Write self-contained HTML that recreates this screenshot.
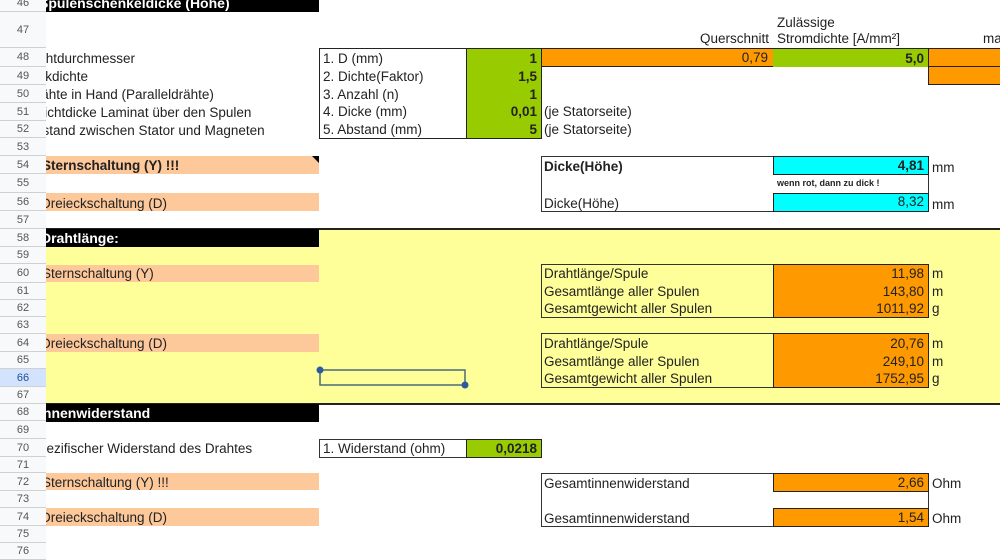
<!DOCTYPE html>
<html><head><meta charset="utf-8">
<style>
html,body{margin:0;padding:0;width:1000px;height:553px;overflow:hidden;background:#fff;font-family:"Liberation Sans",Arial,sans-serif;}
.a{position:absolute;box-sizing:border-box;}
.t{position:absolute;white-space:nowrap;font-size:13.5px;color:#222;box-sizing:border-box;}
.r{text-align:right;padding-right:4px;}
.b{font-weight:bold;}
.hn{position:absolute;left:0;width:46px;text-align:center;font-size:11px;color:#555;background:#f8f9fa;border-bottom:1px solid #d0d0d0;box-sizing:border-box;}
.clip{position:absolute;left:46px;width:273px;overflow:hidden;white-space:nowrap;font-size:13.5px;color:#222;}
</style></head><body>

<div class="a" style="left:319px;top:229px;width:681px;height:175px;background:#ffff99"></div>
<div class="a" style="left:46px;top:247px;width:273px;height:157px;background:#ffff99"></div>
<div class="a" style="left:46px;top:228px;width:954px;height:2px;background:#222"></div>
<div class="a" style="left:46px;top:403px;width:954px;height:2px;background:#222"></div>

<div class="a" style="left:46px;top:0;width:273px;height:12px;background:#000"></div>
<div class="clip b" style="top:-5px;height:17px;line-height:17px;color:#fff;font-size:14px;"><span style="margin-left:-7px">Spulenschenkeldicke (Höhe)</span></div>
<div class="a" style="left:46px;top:229px;width:273px;height:18px;background:#000"></div>
<div class="clip b" style="top:229px;height:18px;line-height:18px;color:#fff;font-size:14px;"><span style="margin-left:-5px">Drahtlänge:</span></div>
<div class="a" style="left:46px;top:404px;width:273px;height:18px;background:#000"></div>
<div class="clip b" style="top:404px;height:18px;line-height:18px;color:#fff;font-size:14px;"><span style="margin-left:-7px">Innenwiderstand</span></div>

<div class="a" style="left:46px;top:156px;width:273px;height:18px;background:#fdc89a"></div>
<div class="a" style="left:46px;top:193px;width:273px;height:18px;background:#fdc89a"></div>
<div class="a" style="left:46px;top:265px;width:273px;height:17px;background:#fdc89a"></div>
<div class="a" style="left:46px;top:334px;width:273px;height:18px;background:#fdc89a"></div>
<div class="a" style="left:46px;top:473px;width:273px;height:17px;background:#fdc89a"></div>
<div class="a" style="left:46px;top:508px;width:273px;height:18px;background:#fdc89a"></div>
<div class="a" style="left:312px;top:156px;width:0;height:0;border-top:7px solid #000;border-left:7px solid transparent"></div>

<div class="clip" style="top:50px;line-height:18px"><span style="margin-left:-22px">Drahtdurchmesser</span></div>
<div class="clip" style="top:68px;line-height:18px"><span style="margin-left:-24px">Packdichte</span></div>
<div class="clip" style="top:86px;line-height:18px"><span style="margin-left:-19px">Drähte in Hand (Paralleldrähte)</span></div>
<div class="clip" style="top:104px;line-height:18px"><span style="margin-left:-25px">Schichtdicke Laminat über den Spulen</span></div>
<div class="clip" style="top:122px;line-height:18px"><span style="margin-left:-20px">Abstand zwischen Stator und Magneten</span></div>
<div class="clip b" style="top:157px;line-height:18px"><span style="margin-left:-4px">Sternschaltung (Y) !!!</span></div>
<div class="clip" style="top:195px;line-height:18px"><span style="margin-left:-5px">Dreieckschaltung (D)</span></div>
<div class="clip" style="top:265px;line-height:18px"><span style="margin-left:-4px">Sternschaltung (Y)</span></div>
<div class="clip" style="top:335px;line-height:18px"><span style="margin-left:-5px">Dreieckschaltung (D)</span></div>
<div class="clip" style="top:440px;line-height:18px"><span style="margin-left:-16px">Spezifischer Widerstand des Drahtes</span></div>
<div class="clip" style="top:474px;line-height:18px"><span style="margin-left:-4px">Sternschaltung (Y) !!!</span></div>
<div class="clip" style="top:509px;line-height:18px"><span style="margin-left:-5px">Dreieckschaltung (D)</span></div>

<div class="t" style="left:700px;top:31px;">Querschnitt</div>
<div class="t" style="left:777px;top:15px;">Zulässige</div>
<div class="t" style="left:777px;top:31px;">Stromdichte [A/mm²]</div>
<div class="t" style="left:983px;top:31px;">ma</div>

<div class="a" style="left:319px;top:48px;width:148px;height:91px;border:1.5px solid #222"></div>
<div class="a" style="left:466px;top:48px;width:76px;height:91px;background:#99cc00;border:1.5px solid #222"></div>
<div class="t" style="left:323px;top:51px">1. D (mm)</div>
<div class="t" style="left:323px;top:69px">2. Dichte(Faktor)</div>
<div class="t" style="left:323px;top:87px">3. Anzahl (n)</div>
<div class="t" style="left:323px;top:104px">4. Dicke (mm)</div>
<div class="t" style="left:323px;top:122px">5. Abstand (mm)</div>
<div class="t r b" style="left:466px;width:75px;top:51px">1</div>
<div class="t r b" style="left:466px;width:75px;top:69px">1,5</div>
<div class="t r b" style="left:466px;width:75px;top:87px">1</div>
<div class="t r b" style="left:466px;width:75px;top:104px">0,01</div>
<div class="t r b" style="left:466px;width:75px;top:122px">5</div>
<div class="t" style="left:544px;top:104px">(je Statorseite)</div>
<div class="t" style="left:544px;top:122px">(je Statorseite)</div>

<div class="a" style="left:541px;top:48px;width:233px;height:19px;background:#ff9900;border:1.5px solid #222"></div>
<div class="t r" style="left:541px;width:231px;top:50px">0,79</div>
<div class="a" style="left:773px;top:48px;width:156px;height:19px;background:#99cc00;border-top:1.5px solid #222"></div>
<div class="t r b" style="left:773px;width:155px;top:51px">5,0</div>
<div class="a" style="left:928px;top:48px;width:80px;height:19px;background:#ff9900;border:1.5px solid #222"></div>
<div class="a" style="left:928px;top:66px;width:80px;height:19px;background:#ff9900;border:1.5px solid #222"></div>

<div class="a" style="left:541px;top:156px;width:388px;height:56px;border:1px solid #333"></div>
<div class="a" style="left:773px;top:156px;width:156px;height:19px;background:#00ffff;border:1.5px solid #222"></div>
<div class="a" style="left:773px;top:193px;width:156px;height:19px;background:#00ffff;border:1.5px solid #222"></div>
<div class="t b" style="left:544px;top:159px">Dicke(Höhe)</div>
<div class="t r b" style="left:773px;width:155px;top:158px">4,81</div>
<div class="t b" style="left:777px;top:178px;font-size:9px">wenn rot, dann zu dick !</div>
<div class="t" style="left:544px;top:196px">Dicke(Höhe)</div>
<div class="t r" style="left:773px;width:155px;top:194px">8,32</div>
<div class="t" style="left:932px;top:160px">mm</div>
<div class="t" style="left:932px;top:197px">mm</div>

<div class="a" style="left:541px;top:264px;width:388px;height:54px;border:1px solid #333"></div>
<div class="a" style="left:773px;top:264px;width:156px;height:54px;background:#ff9900;border:1.5px solid #222"></div>
<div class="t" style="left:544px;top:266px">Drahtlänge/Spule</div>
<div class="t" style="left:544px;top:284px">Gesamtlänge aller Spulen</div>
<div class="t" style="left:544px;top:301px">Gesamtgewicht aller Spulen</div>
<div class="t r" style="left:773px;width:155px;top:266px">11,98</div>
<div class="t r" style="left:773px;width:155px;top:284px">143,80</div>
<div class="t r" style="left:773px;width:155px;top:301px">1011,92</div>
<div class="t" style="left:932px;top:266px">m</div>
<div class="t" style="left:932px;top:284px">m</div>
<div class="t" style="left:932px;top:301px">g</div>

<div class="a" style="left:541px;top:333px;width:388px;height:55px;border:1px solid #333"></div>
<div class="a" style="left:773px;top:333px;width:156px;height:55px;background:#ff9900;border:1.5px solid #222"></div>
<div class="t" style="left:544px;top:336px">Drahtlänge/Spule</div>
<div class="t" style="left:544px;top:354px">Gesamtlänge aller Spulen</div>
<div class="t" style="left:544px;top:371px">Gesamtgewicht aller Spulen</div>
<div class="t r" style="left:773px;width:155px;top:336px">20,76</div>
<div class="t r" style="left:773px;width:155px;top:354px">249,10</div>
<div class="t r" style="left:773px;width:155px;top:371px">1752,95</div>
<div class="t" style="left:932px;top:336px">m</div>
<div class="t" style="left:932px;top:354px">m</div>
<div class="t" style="left:932px;top:371px">g</div>

<svg class="a" style="left:310px;top:360px" width="170" height="40">
<rect x="10" y="10" width="145" height="15" fill="none" stroke="#4a6a7a" stroke-width="1.5"/>
<circle cx="10" cy="10" r="3.5" fill="#2c5aa0"/>
<circle cx="155" cy="25" r="3.5" fill="#2c5aa0"/>
</svg>

<div class="a" style="left:319px;top:439px;width:148px;height:19px;border:1px solid #333"></div>
<div class="a" style="left:466px;top:439px;width:76px;height:19px;background:#99cc00;border:1.5px solid #222"></div>
<div class="t" style="left:323px;top:441px">1. Widerstand (ohm)</div>
<div class="t r b" style="left:466px;width:75px;top:441px">0,0218</div>

<div class="a" style="left:541px;top:473px;width:388px;height:54px;border:1px solid #333"></div>
<div class="a" style="left:773px;top:473px;width:156px;height:19px;background:#ff9900;border:1.5px solid #222"></div>
<div class="a" style="left:773px;top:508px;width:156px;height:19px;background:#ff9900;border:1.5px solid #222"></div>
<div class="t" style="left:544px;top:476px">Gesamtinnenwiderstand</div>
<div class="t" style="left:544px;top:511px">Gesamtinnenwiderstand</div>
<div class="t r" style="left:773px;width:155px;top:475px">2,66</div>
<div class="t r" style="left:773px;width:155px;top:510px">1,54</div>
<div class="t" style="left:932px;top:476px">Ohm</div>
<div class="t" style="left:932px;top:511px">Ohm</div>

<div class="hn" style="top:-6px;height:18px;line-height:18px">46</div>
<div class="hn" style="top:12px;height:36px;line-height:36px">47</div>
<div class="hn" style="top:48px;height:19px;line-height:19px">48</div>
<div class="hn" style="top:67px;height:18px;line-height:18px">49</div>
<div class="hn" style="top:85px;height:18px;line-height:18px">50</div>
<div class="hn" style="top:103px;height:18px;line-height:18px">51</div>
<div class="hn" style="top:121px;height:17px;line-height:17px">52</div>
<div class="hn" style="top:138px;height:18px;line-height:18px">53</div>
<div class="hn" style="top:156px;height:18px;line-height:18px">54</div>
<div class="hn" style="top:174px;height:19px;line-height:19px">55</div>
<div class="hn" style="top:193px;height:18px;line-height:18px">56</div>
<div class="hn" style="top:211px;height:18px;line-height:18px">57</div>
<div class="hn" style="top:229px;height:18px;line-height:18px">58</div>
<div class="hn" style="top:247px;height:17px;line-height:17px">59</div>
<div class="hn" style="top:264px;height:19px;line-height:19px">60</div>
<div class="hn" style="top:283px;height:17px;line-height:17px">61</div>
<div class="hn" style="top:300px;height:17px;line-height:17px">62</div>
<div class="hn" style="top:317px;height:17px;line-height:17px">63</div>
<div class="hn" style="top:334px;height:18px;line-height:18px">64</div>
<div class="hn" style="top:352px;height:17px;line-height:17px">65</div>
<div class="hn" style="top:369px;height:18px;line-height:18px;background:#d3e3fd;color:#1a4f9c">66</div>
<div class="hn" style="top:387px;height:17px;line-height:17px">67</div>
<div class="hn" style="top:404px;height:17px;line-height:17px">68</div>
<div class="hn" style="top:421px;height:18px;line-height:18px">69</div>
<div class="hn" style="top:439px;height:18px;line-height:18px">70</div>
<div class="hn" style="top:457px;height:16px;line-height:16px">71</div>
<div class="hn" style="top:473px;height:18px;line-height:18px">72</div>
<div class="hn" style="top:491px;height:17px;line-height:17px">73</div>
<div class="hn" style="top:508px;height:18px;line-height:18px">74</div>
<div class="hn" style="top:526px;height:17px;line-height:17px">75</div>
<div class="hn" style="top:543px;height:17px;line-height:17px">76</div>
</body></html>
